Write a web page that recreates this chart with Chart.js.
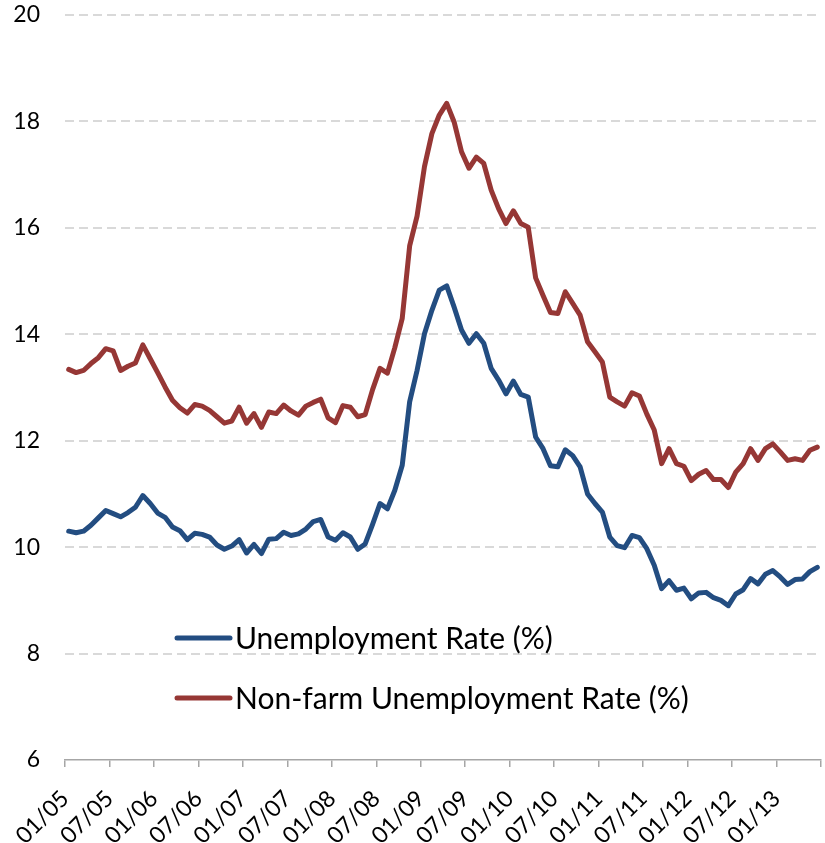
<!DOCTYPE html>
<html>
<head>
<meta charset="utf-8">
<script src="https://cdn.jsdelivr.net/npm/chart.js@4/dist/chart.umd.min.js"></script>
<style>
    body { margin: 0; background: #ffffff; }
    .wrap { width: 825px; height: 843px; position: relative; }
</style>
</head>
<body>
<div class="wrap"><canvas id="rateChart"></canvas></div>
<script>
// Tick labels every six months, Jan 2005 .. Jan 2013
const tickLabels = ['01/05', '07/05', '01/06', '07/06', '01/07', '07/07', '01/08', '07/08',
    '01/09', '07/09', '01/10', '07/10', '01/11', '07/11', '01/12', '07/12', '01/13'];

const seriesNames = ['Unemployment Rate (%)', 'Non-farm Unemployment Rate (%)'];

// Monthly values, Jan 2005 .. Jun 2013 (102 months)
const unemploymentRate = [
    10.30, 10.27, 10.30, 10.41, 10.55, 10.69, 10.63, 10.57, 10.65, 10.75,
    10.97, 10.82, 10.64, 10.56, 10.38, 10.31, 10.14, 10.26, 10.24, 10.19,
    10.04, 9.96, 10.02, 10.14, 9.89, 10.05, 9.88, 10.15, 10.16, 10.28,
    10.22, 10.25, 10.34, 10.48, 10.52, 10.19, 10.13, 10.27, 10.19, 9.96,
    10.06, 10.43, 10.82, 10.72, 11.07, 11.54, 12.73, 13.32, 14.01, 14.45,
    14.83, 14.91, 14.51, 14.08, 13.83, 14.01, 13.83, 13.36, 13.14, 12.88,
    13.12, 12.87, 12.82, 12.07, 11.85, 11.53, 11.51, 11.83, 11.72, 11.51,
    11.00, 10.82, 10.66, 10.19, 10.03, 9.99, 10.22, 10.18, 9.97, 9.66,
    9.22, 9.37, 9.19, 9.23, 9.03, 9.14, 9.15, 9.05, 9.00, 8.90,
    9.12, 9.20, 9.41, 9.31, 9.49, 9.56, 9.44, 9.30, 9.39, 9.40,
    9.54, 9.62
];

const nonFarmRate = [
    13.34, 13.28, 13.32, 13.45, 13.56, 13.73, 13.69, 13.32, 13.40, 13.46,
    13.80, 13.54, 13.28, 13.01, 12.76, 12.62, 12.52, 12.68, 12.65, 12.57,
    12.45, 12.33, 12.37, 12.63, 12.33, 12.51, 12.25, 12.54, 12.51, 12.67,
    12.56, 12.48, 12.65, 12.72, 12.78, 12.43, 12.34, 12.66, 12.63, 12.45,
    12.49, 12.96, 13.36, 13.27, 13.75, 14.30, 15.66, 16.22, 17.15, 17.77,
    18.12, 18.34, 17.99, 17.43, 17.12, 17.33, 17.21, 16.71, 16.36, 16.08,
    16.32, 16.08, 16.01, 15.06, 14.73, 14.41, 14.39, 14.80, 14.58, 14.36,
    13.86, 13.67, 13.48, 12.82, 12.73, 12.65, 12.90, 12.84, 12.50, 12.20,
    11.57, 11.85, 11.57, 11.52, 11.25, 11.37, 11.44, 11.27, 11.27, 11.12,
    11.41, 11.57, 11.85, 11.63, 11.85, 11.94, 11.79, 11.63, 11.66, 11.63,
    11.82, 11.88
];

const yTicks = [6, 8, 10, 12, 14, 16, 18, 20];

const colors = ['#234d81', '#963735'];

// each month sits in the middle of its slot on the x axis
function toPoints(values) {
    return values.map((v, i) => ({ x: i + 0.5, y: v }));
}

// Legend drawn inside the plot, lower left
const insideLegend = {
    id: 'insideLegend',
    afterDatasetsDraw(chart) {
        const ctx = chart.ctx;
        const area = chart.chartArea;
        chart.data.datasets.forEach((ds, i) => {
            const y = area.top + 623 + i * 60;
            const x0 = area.left + 112;
            ctx.save();
            ctx.strokeStyle = ds.borderColor;
            ctx.lineWidth = 5;
            ctx.lineCap = 'round';
            ctx.beginPath();
            ctx.moveTo(x0, y);
            ctx.lineTo(x0 + 53, y);
            ctx.stroke();
            ctx.fillStyle = '#000000';
            ctx.font = '30px Lato';
            ctx.textAlign = 'left';
            ctx.textBaseline = 'alphabetic';
            ctx.fillText(ds.label, x0 + 58, y + 11);
            ctx.restore();
        });
    }
};

document.addEventListener('DOMContentLoaded', function() {
    const ctx = document.getElementById('rateChart');

    new Chart(ctx, {
        type: 'line',
        data: {
            datasets: [
                {
                    label: seriesNames[0],
                    data: toPoints(unemploymentRate),
                    borderColor: colors[0],
                    borderWidth: 5,
                    pointRadius: 0,
                    tension: 0,
                    borderJoinStyle: 'round',
                    borderCapStyle: 'round'
                },
                {
                    label: seriesNames[1],
                    data: toPoints(nonFarmRate),
                    borderColor: colors[1],
                    borderWidth: 5,
                    pointRadius: 0,
                    tension: 0,
                    borderJoinStyle: 'round',
                    borderCapStyle: 'round'
                }
            ]
        },
        options: {
            responsive: true,
            maintainAspectRatio: false,
            animation: false,
            layout: {
                padding: { top: 15, right: 4, left: 0, bottom: 0 }
            },
            plugins: {
                legend: { display: false },
                tooltip: { enabled: false }
            },
            scales: {
                x: {
                    type: 'linear',
                    min: 0,
                    max: 102,
                    afterFit: function(scale) {
                        scale.height = 83;
                        scale.paddingLeft = 0;
                        scale.paddingRight = 0;
                    },
                    grid: {
                        drawOnChartArea: false,
                        drawTicks: true,
                        tickLength: 7,
                        color: '#a6a6a6',
                        lineWidth: 1.5
                    },
                    border: {
                        display: true,
                        color: '#a6a6a6',
                        width: 1.5
                    },
                    ticks: {
                        stepSize: 6,
                        autoSkip: false,
                        maxRotation: 45,
                        minRotation: 45,
                        padding: 18,
                        color: '#000000',
                        font: { size: 23, family: 'Lato' },
                        callback: function(value) {
                            return tickLabels[value / 6] || '';
                        }
                    }
                },
                y: {
                    min: yTicks[0],
                    max: yTicks[yTicks.length - 1],
                    afterFit: function(scale) {
                        scale.width = 65;
                        scale.paddingTop = 0;
                        scale.paddingBottom = 0;
                    },
                    grid: {
                        drawTicks: false,
                        color: function(c) {
                            return c.tick && c.tick.value === yTicks[0] ? 'rgba(0,0,0,0)' : '#d9d9d9';
                        },
                        lineWidth: 2
                    },
                    border: {
                        display: false,
                        dash: [9, 5]
                    },
                    ticks: {
                        stepSize: 2,
                        padding: 25,
                        color: '#000000',
                        font: { size: 23, family: 'Lato' }
                    }
                }
            }
        },
        plugins: [insideLegend]
    });
});
</script>
</body>
</html>
